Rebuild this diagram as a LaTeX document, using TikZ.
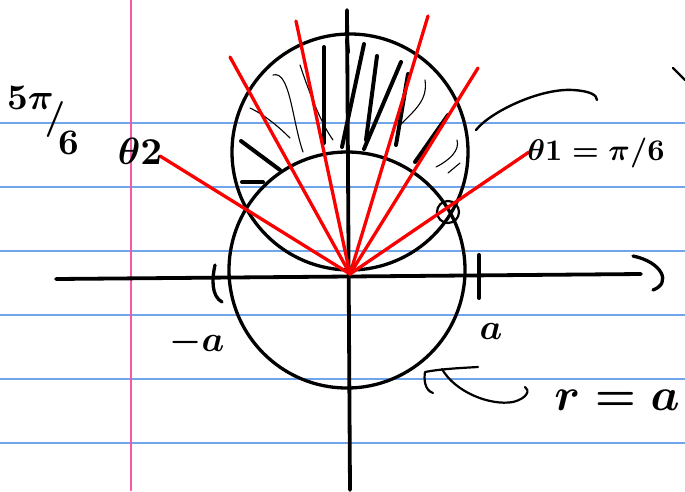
\documentclass[tikz,border=0pt]{standalone}
\usepackage{amsmath}
\definecolor{paperblue}{RGB}{110,165,235}
\definecolor{marginpink}{RGB}{245,90,170}
\definecolor{redpen}{RGB}{250,0,0}
\begin{document}
\begin{tikzpicture}[x=1pt,y=-1pt,
  rule/.style={paperblue, line width=1.3},
  ink/.style={black, line width=3.3, line cap=round, line join=round},
  thickink/.style={black, line width=4, line cap=round},
  fine/.style={black, line width=1.1, line cap=round},
  ray/.style={redpen, line width=3.3, line cap=round},
  hand/.style={inner sep=0pt, font=\normalsize\boldmath, scale=3.6}
]
\fill[white] (0,0) rectangle (685,491);
\useasboundingbox (0,0) rectangle (685,491);
% notebook paper
\foreach \y in {123,187,251,315,379,443} \draw[rule] (0,\y) -- (685,\y);
\draw[marginpink, line width=1.3] (131,0) -- (131,491);

% axes
\coordinate (xl) at (56,279);
\coordinate (xr) at (641,274);
\coordinate (yt) at (347,10);
\coordinate (yb) at (350,490);
\draw[ink, line width=3.8] (xl) -- (xr);
\draw[ink, line width=3.8] (yt) -- (yb);
\draw[ink] (633,256) .. controls (662,262) and (672,283) .. (653,290);

% ticks
\draw[ink] (215,265) .. controls (212,278) and (211,296) .. (222,302);
\draw[ink, line width=4] (479,255) -- (479,298);

% circles
\coordinate (c1) at (347,270);
\coordinate (c2) at (350,152);
\draw[ink] (c1) circle[radius=118pt];
\draw[ink] (c2) circle[radius=118pt];
\draw[ink, line width=2.2] (448,212) circle[radius=11pt];

% thick hatching
\draw[thickink] (241,141) -- (280,170);
\draw[thickink] (242,182) -- (263,182);
\draw[thickink] (324,47) -- (324,143);
\draw[thickink] (364,44) -- (342,147);
\draw[thickink] (377,56) -- (366,140);
\draw[thickink] (401,62) -- (364,149);
\draw[thickink] (408,74) -- (396,145);
\draw[thickink] (448,115) -- (415,162);
\draw[thickink] (347,40) -- (348,52);

% fine hatching
\draw[fine] (250,108) .. controls (265,115) and (280,128) .. (290,138);
\draw[fine] (273,75) .. controls (290,70) and (292,120) .. (303,152);
\draw[fine] (300,65) .. controls (310,95) and (322,125) .. (333,140);
\draw[fine] (425,80) .. controls (428,100) and (415,110) .. (400,125);
\draw[fine] (457,140) .. controls (460,150) and (450,160) .. (436,167);
\draw[fine] (460,163) -- (448,173);

% red rays
\coordinate (O) at (350,274);
\coordinate (r1) at (160,156);
\coordinate (r2) at (230,57);
\coordinate (r3) at (296,21);
\coordinate (r4) at (428,16);
\coordinate (r5) at (478,68);
\coordinate (r6) at (529,152);
\foreach \r in {r1,r2,r3,r4,r5,r6} \draw[ray] (O) -- (\r);

% annotation strokes
\draw[ink, line width=2.4] (476,130) .. controls (490,112) and (540,88) .. (573,90)
  .. controls (590,91) and (597,95) .. (597,100);
\draw[ink, line width=2.4] (673,68) -- (685,80);
\draw[ink, line width=2.2] (433,393) .. controls (424,390) and (424,378) .. (425,372)
  .. controls (440,369) and (460,368) .. (478,367);
\draw[ink, line width=2.2] (442,369) .. controls (455,392) and (490,406) .. (513,402)
  .. controls (528,398) and (530,390) .. (525,387);

% texts
\node[hand] (t5pi6) at (43,120)
  {$\raisebox{5.5pt}{$5\pi$}\kern-2.5pt\raisebox{0pt}{$/$}\kern-2pt\raisebox{-7pt}{$6$}$};
\node[hand, scale=3.8/3.6] (th2) at (140,151) {$\theta 2$};
\node[hand, scale=3.0/3.6] (th1) at (596,153) {$\theta 1 = \pi/6$};
\node[hand] (tma) at (197,342) {$-a$};
\node[hand] (ta) at (491,331) {$a$};
\node[hand, scale=4.6/3.6] (tra) at (617,400) {$r=a$};
\end{tikzpicture}
\end{document}
